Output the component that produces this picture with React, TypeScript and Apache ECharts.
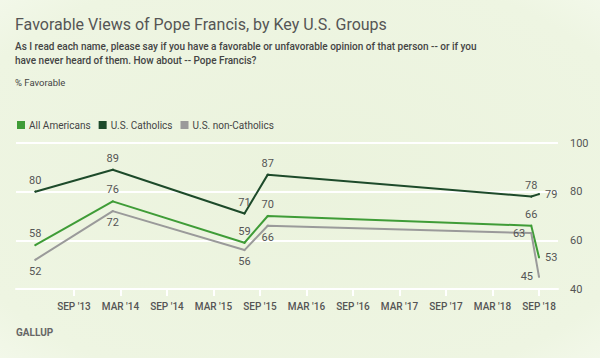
import React, { useEffect, useRef } from "react";
import * as echarts from "echarts";

// Survey dates (YYYY-MM)
const surveyDates = ["2013-04", "2014-02", "2015-07", "2015-10", "2018-08", "2018-09"];
const allAmericans = [58, 76, 59, 70, 66, 53];
const usCatholics = [80, 89, 71, 87, 78, 79];
const usNonCatholics = [52, 72, 56, 66, 63, 45];

// x-axis tick dates and labels
const tickDates = ["2013-09", "2014-03", "2014-09", "2015-03", "2015-09", "2016-03", "2016-09", "2017-03", "2017-09", "2018-03", "2018-09"];
const tickLabels = ["SEP '13", "MAR '14", "SEP '14", "MAR '15", "SEP '15", "MAR '16", "SEP '16", "MAR '17", "SEP '17", "MAR '18", "SEP '18"];

const seriesNames = ["All Americans", "U.S. Catholics", "U.S. non-Catholics"];

// label placements (style)
const posAll = ["top", "top", "top", "top", "top", "right"];
const posCath = ["top", "top", "top", "top", "top", "right"];
const posNon = ["bottom", "bottom", "bottom", "bottom", "left", "left"];

// months since March 2013
const toMonth = (d: string) => {
  const [y, m] = d.split("-").map(Number);
  return (y - 2013) * 12 + (m - 3);
};

const FONT = "Roboto, 'Noto Sans', sans-serif";

export default function App() {
  const ref = useRef<HTMLDivElement>(null);
  useEffect(() => {
    if (!ref.current) return;
    const chart = echarts.init(ref.current, undefined, { renderer: "svg" });
    const mk = (vals: number[], pos: string[]) =>
      vals.map((v, i) => ({
        value: [toMonth(surveyDates[i]), v],
        label: { position: pos[i] },
      }));
    const tickVals = tickDates.map(toMonth);
    const labelMap: Record<number, string> = {};
    tickVals.forEach((v, i) => (labelMap[v] = tickLabels[i]));

    const lineSeries = (name: string, vals: number[], pos: string[], color: string) => ({
      name,
      type: "line",
      data: mk(vals, pos),
      symbol: "circle",
      symbolSize: 2,
      showSymbol: true,
      lineStyle: { color, width: 2 },
      itemStyle: { color },
      label: {
        show: true,
        color: "#555",
        fontSize: 11,
        fontFamily: FONT,
        distance: 5,
      },
      z: 3,
    });

    chart.setOption({
      animation: false,
      backgroundColor: {
        type: "radial",
        x: 0.5,
        y: 0.5,
        r: 0.75,
        colorStops: [
          { offset: 0, color: "#ebf3dd" },
          { offset: 0.8, color: "#eef5e2" },
          { offset: 1, color: "#f4f9ec" },
        ],
      },
      textStyle: { fontFamily: FONT },
      graphic: [
        {
          type: "text",
          left: 15,
          top: 16,
          style: {
            text: "Favorable Views of Pope Francis, by Key U.S. Groups",
            fill: "#555",
            font: `16px ${FONT}`,
          },
        },
        {
          type: "text",
          left: 15,
          top: 40,
          style: {
            text:
              "As I read each name, please say if you have a favorable or unfavorable opinion of that person -- or if you\nhave never heard of them. How about -- Pope Francis?",
            fill: "#444",
            font: `500 10px ${FONT}`,
            lineHeight: 13.5,
          },
        },
        {
          type: "text",
          left: 15,
          top: 77,
          style: {
            text: "% Favorable",
            fill: "#444",
            font: `9.5px ${FONT}`,
          },
        },
        {
          type: "text",
          left: 16,
          top: 327,
          style: {
            text: "GALLUP",
            fill: "#666",
            font: `bold 10px ${FONT}`,
          },
        },
      ],
      legend: {
        left: 12,
        top: 115,
        icon: "rect",
        itemWidth: 8,
        itemHeight: 8,
        itemGap: 8,
        data: seriesNames,
        textStyle: { color: "#444", fontSize: 10, fontFamily: FONT, padding: [0, 0, 0, -1] },
      },
      grid: { left: 16, right: 42, top: 143, bottom: 69 },
      xAxis: {
        type: "value",
        min: -1.48,
        max: 68.45,
        splitLine: { show: false },
        axisLine: { show: true, lineStyle: { color: "#ffffff", width: 2 } },
        axisTick: {
          show: true,
          customValues: tickVals,
          length: 7,
          lineStyle: { color: "#ffffff", width: 2 },
        },
        axisLabel: {
          customValues: tickVals,
          formatter: (v: number) => labelMap[Math.round(v)] ?? "",
          color: "#555",
          fontSize: 10,
          fontWeight: 500,
          fontFamily: FONT,
          margin: 12,
        },
      },
      yAxis: {
        type: "value",
        position: "right",
        min: 40,
        max: 100,
        interval: 20,
        axisLine: { show: false },
        axisTick: { show: false },
        splitLine: { show: true, lineStyle: { color: "#ffffff", width: 2 } },
        axisLabel: {
          color: "#555",
          fontSize: 11,
          fontFamily: FONT,
          margin: 12,
        },
      },
      series: [
        lineSeries(seriesNames[0], allAmericans, posAll, "#3f9c37"),
        lineSeries(seriesNames[1], usCatholics, posCath, "#1d4a2a"),
        lineSeries(seriesNames[2], usNonCatholics, posNon, "#9a9a9a"),
      ],
    });
    return () => chart.dispose();
  }, []);
  return (
    <div
      ref={ref}
      style={{ position: "absolute", left: 0, top: 0, width: 600, height: 358 }}
    />
  );
}
